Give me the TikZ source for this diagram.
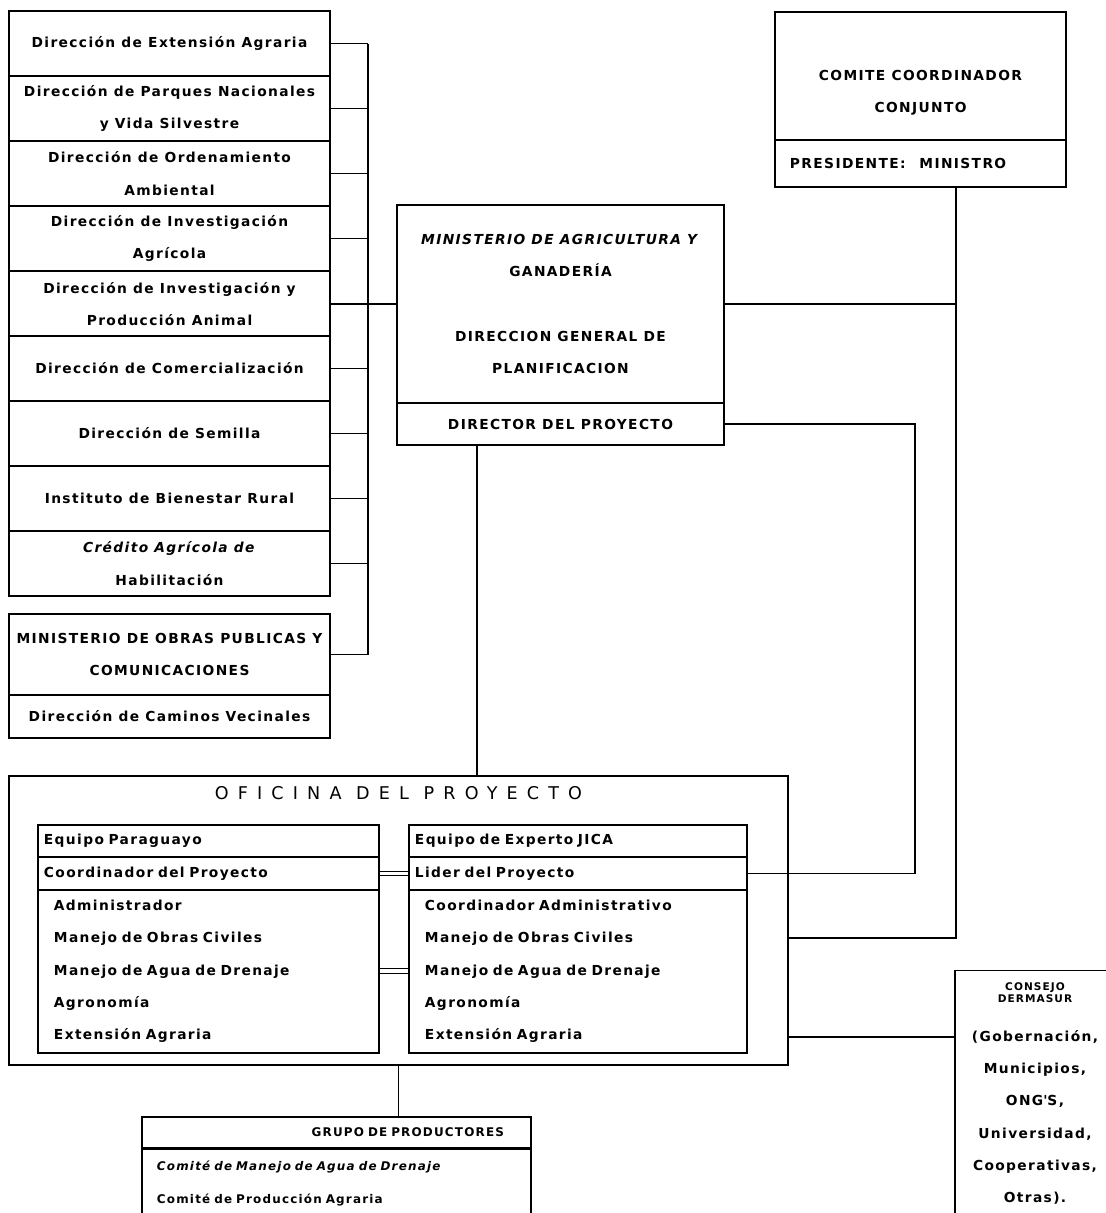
\documentclass[tikz,border=0pt]{standalone}
\usepackage{fontspec}
\setmainfont{DejaVu Sans}[LetterSpace=10,
  BoldFont={DejaVu Sans Bold},
  ItalicFont={DejaVu Sans Oblique},
  BoldItalicFont={DejaVu Sans Bold Oblique}]
\newfontfamily\oficinafont{DejaVu Sans}[LetterSpace=52]
\newcommand\orgfont{\fontsize{9.8}{23}\selectfont\bfseries}
\newcommand\grupofont{\fontsize{8.5}{23}\selectfont\bfseries}
\newcommand\consejotitle{\fontsize{7.5}{8.5}\selectfont}

\begin{document}
\begin{tikzpicture}[x=0.025cm,y=-0.025cm,line width=1pt,
    dirbox/.style={draw,inner sep=0pt,minimum width=8.025cm,minimum height=1.625cm,
      align=center,font=\orgfont},
    magbox/.style={draw,inner sep=0pt,minimum width=8.175cm,align=center,font=\orgfont},
    teamhead/.style={draw,inner xsep=0.15cm,inner ysep=0pt,align=left,font=\orgfont},
    teamlist/.style={draw,inner xsep=0.4cm,inner ysep=0pt,align=left,font=\orgfont},
    link/.style={line width=1.3pt},
    eqlink/.style={double,double distance=2.5pt,line width=0.7pt}
  ]
    \clip (0,0) rectangle (1106,1213);

    \node[dirbox] (extension) at (169.5,43.5) {Dirección de Extensión Agraria};
    \node[dirbox] (parques) at (169.5,108.5) {Dirección de Parques Nacionales\\y Vida Silvestre};
    \node[dirbox] (ordenamiento) at (169.5,173.5) {Dirección de Ordenamiento\\Ambiental};
    \node[dirbox] (invagricola) at (169.5,238.5) {Dirección de Investigación\\Agrícola};
    \node[dirbox] (invanimal) at (169.5,304) {Dirección de Investigación y\\Producción Animal};
    \node[dirbox] (comercial) at (169.5,368.5) {Dirección de Comercialización};
    \node[dirbox] (semilla) at (169.5,433.5) {Dirección de Semilla};
    \node[dirbox] (bienestar) at (169.5,498.5) {Instituto de Bienestar Rural};
    \node[dirbox] (credito) at (169.5,563.5) {\textit{Crédito Agrícola de}\\Habilitación};

    \node[dirbox,minimum height=2.025cm] (mopc) at (169.5,654.5)
      {MINISTERIO DE OBRAS PUBLICAS Y\\COMUNICACIONES};
    \node[dirbox,minimum height=1.075cm] (caminos) at (169.5,716.5)
      {Dirección de Caminos Vecinales};

    \node[magbox,minimum height=4.95cm] (mag) at (560.5,304)
      {\textit{MINISTERIO DE AGRICULTURA Y}\\GANADERÍA\\[23pt]DIRECCION GENERAL DE\\PLANIFICACION};
    \node[magbox,minimum height=1.05cm] (magdir) at (560.5,424) {DIRECTOR DEL PROYECTO};

    \node[draw,inner sep=0pt,minimum width=7.275cm,minimum height=3.2cm,align=center,font=\orgfont]
      (comite) at (920.5,76) {\mbox{}\\[8pt]COMITE COORDINADOR\\CONJUNTO};
    \node[draw,inner xsep=0.375cm,inner ysep=0pt,text width=6.525cm,minimum height=1.175cm,
      align=left,font=\orgfont] (presid) at (920.5,163.5) {PRESIDENTE:\quad MINISTRO};

    \node[draw,inner sep=0pt,minimum width=19.475cm,minimum height=7.225cm] (oficina) at (398.5,920.5) {};
    \node[font=\oficinafont\fontsize{12.5}{15}\selectfont] (ofititle) at (398.5,793) {OFICINA DEL PROYECTO};

    \node[teamhead,text width=8.225cm,minimum height=0.8cm] (eqpy) at (208.5,841) {Equipo Paraguayo};
    \node[teamhead,text width=8.225cm,minimum height=0.825cm] (coordpy) at (208.5,873.5)
      {Coordinador del Proyecto};
    \node[teamlist,text width=7.725cm,minimum height=4.075cm] (listpy) at (208.5,971.5)
      {Administrador\\Manejo de Obras Civiles\\Manejo de Agua de Drenaje\\Agronomía\\Extensión Agraria};

    \node[teamhead,text width=8.15cm,minimum height=0.8cm] (eqjc) at (578,841) {Equipo de Experto JICA};
    \node[teamhead,text width=8.15cm,minimum height=0.825cm] (lider) at (578,873.5) {Lider del Proyecto};
    \node[teamlist,text width=7.65cm,minimum height=4.075cm] (listjc) at (578,971.5)
      {Coordinador Administrativo\\Manejo de Obras Civiles\\Manejo de Agua de Drenaje\\Agronomía\\Extensión Agraria};

    \node[draw,inner xsep=0.675cm,inner ysep=0pt,text width=8.375cm,minimum height=0.775cm,
      align=right,font=\grupofont] (grupo) at (336.5,1132.5) {GRUPO DE PRODUCTORES};
    \node[draw,anchor=north,inner xsep=0.375cm,inner ysep=0pt,text width=8.975cm,minimum height=1.7cm,
      align=left,font=\grupofont] (comites) at (grupo.south)
      {\textit{Comité de Manejo de Agua de Drenaje}\\Comité de Producción Agraria};

    \node[draw,anchor=north,inner xsep=0.2cm,inner ysep=0pt,text width=3.6cm,minimum height=6.125cm,
      align=center,font=\orgfont] (consejo) at (1035,970)
      {{\consejotitle\begin{tabular}{@{}c@{}}CONSEJO\\DERMASUR\end{tabular}}\\[9pt]
       (Gobernación,\\Municipios,\\ONG\textquotesingle S,\\Universidad,\\Cooperativas,\\Otras).};

    \coordinate (bus) at (368,0);
    \draw[link] (extension.east) -- (extension.east -| bus);
    \draw[link] (parques.east) -- (parques.east -| bus);
    \draw[link] (ordenamiento.east) -- (ordenamiento.east -| bus);
    \draw[link] (invagricola.east) -- (invagricola.east -| bus);
    \draw[link] (invanimal.east) -- (mag.west);
    \draw[link] (comercial.east) -- (comercial.east -| bus);
    \draw[link] (semilla.east) -- (semilla.east -| bus);
    \draw[link] (bienestar.east) -- (bienestar.east -| bus);
    \draw[link] (credito.east) -- (credito.east -| bus);
    \draw[link] (mopc.east) -- (mopc.east -| bus);
    \draw[link] (extension.east -| bus) -- (mopc.east -| bus);

    \coordinate (magdown) at (477,0);
    \draw[link] (magdir.south -| magdown) -- (oficina.north -| magdown);
    \coordinate (lidercol) at (915,0);
    \draw[link] (magdir.east) -- (magdir.east -| lidercol) -- (lider.east -| lidercol) -- (lider.east);
    \coordinate (comitecol) at (956,938);
    \draw[link] (presid.south -| comitecol) -- (comitecol) -- (comitecol -| oficina.east);
    \draw[link] (mag.east) -- (mag.east -| comitecol);
    \coordinate (consejorow) at (0,1037);
    \draw[link] (oficina.east |- consejorow) -- (consejo.west |- consejorow);
    \draw[link] (oficina.south) -- (oficina.south |- grupo.north);

    \coordinate (aguarow) at (0,971);
    \draw[eqlink] (coordpy.east) -- (lider.west);
    \draw[eqlink] (listpy.east |- aguarow) -- (listjc.west |- aguarow);
  \end{tikzpicture}
\end{document}
